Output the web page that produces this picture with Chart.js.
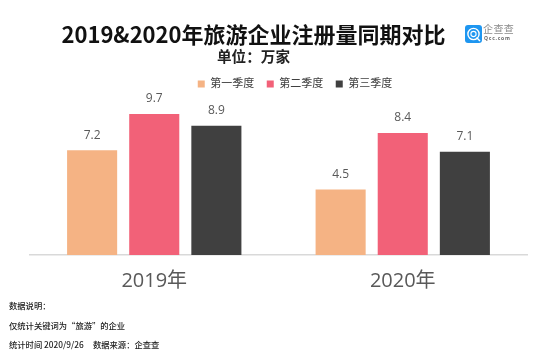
<!DOCTYPE html>
<html>
<head>
<meta charset="utf-8">
<script src="https://cdn.jsdelivr.net/npm/chart.js@4"></script>
<style>
  html, body { margin: 0; padding: 0; background: #fff; }
  #wrap { position: relative; width: 543px; height: 355px; overflow: hidden; font-family: "Noto Sans CJK SC", sans-serif; }
  #wrap div { position: absolute; white-space: pre; }
  #title { left: 0; width: 507px; top: 17px; text-align: center; font-size: 22px; line-height: 32px; font-weight: 700; color: #111; }
  #subtitle { left: 0; width: 507px; top: 45px; text-align: center; font-size: 14.6px; line-height: 22px; font-weight: 700; color: #222; }
  .note { left: 9px; font-size: 8.3px; line-height: 12px; font-weight: 500; color: #222; }
  #logoName { left: 483px; top: 22px; font-size: 10px; line-height: 14px; letter-spacing: 0.4px; color: #8a8a8a; }
  #logoSub { left: 484px; top: 34px; font-size: 5px; line-height: 8px; letter-spacing: 0.8px; color: #666; font-family: "Open Sans", sans-serif; font-weight: 700; }
  #logo { left: 465px; top: 24px; }
</style>
</head>
<body>
<div id="wrap">
  <canvas id="myChart" width="543" height="355"></canvas>
  <div id="title">2019&amp;2020年旅游企业注册量同期对比</div>
  <div id="subtitle">单位：万家</div>
  <div id="logo"><svg width="17" height="18" viewBox="0 0 17 18">
    <rect width="17" height="18" rx="3" fill="#1e96f0"/>
    <circle cx="8.5" cy="9" r="5.6" fill="none" stroke="#fff" stroke-width="1.4"/>
    <circle cx="8.5" cy="9" r="2.6" fill="none" stroke="#fff" stroke-width="1.1"/>
    <path d="M11.5 12.5 L15 16" stroke="#fff" stroke-width="1.4"/>
  </svg></div>
  <div id="logoName">企查查</div>
  <div id="logoSub">Qcc.com</div>
  <div class="note" style="top:299px">数据说明：</div>
  <div class="note" style="top:319px">仅统计关键词为“旅游”的企业</div>
  <div class="note" style="top:338px">统计时间 2020/9/26     数据来源：企查查</div>
</div>

<script>
var categories = ['2019年', '2020年'];
var seriesNames = ['第一季度', '第二季度', '第三季度'];
var q1Values = [7.2, 4.5];
var q2Values = [9.7, 8.4];
var q3Values = [8.9, 7.1];
var seriesColors = ['#f5b384', '#f26178', '#404040'];

var fontFamily = '"Open Sans", "Noto Sans CJK SC", sans-serif';

// value labels above the bars
var barLabels = {
  id: 'barLabels',
  afterDatasetsDraw: function(chart) {
    var ctx = chart.ctx;
    ctx.save();
    ctx.font = '12px ' + fontFamily;
    ctx.fillStyle = '#595959';
    ctx.textAlign = 'center';
    ctx.textBaseline = 'middle';
    chart.data.datasets.forEach(function(ds, i) {
      chart.getDatasetMeta(i).data.forEach(function(bar, j) {
        ctx.fillText(ds.data[j].toFixed(1), bar.x, bar.y - 15);
      });
    });
    ctx.restore();
  }
};

// legend sits right of centre in the original
var legendShift = {
  id: 'legendShift',
  afterLayout: function(chart) {
    chart.legend.left += 33;
  }
};

var ctxBar = document.getElementById('myChart').getContext('2d');
var myChart = new Chart(ctxBar, {
  type: 'bar',
  data: {
    labels: categories,
    datasets: [
      { label: seriesNames[0], data: q1Values, backgroundColor: seriesColors[0] },
      { label: seriesNames[1], data: q2Values, backgroundColor: seriesColors[1] },
      { label: seriesNames[2], data: q3Values, backgroundColor: seriesColors[2] }
    ]
  },
  plugins: [barLabels, legendShift],
  options: {
    responsive: false,
    animation: false,
    layout: { padding: { left: 30, right: 16, top: 66, bottom: 56 } },
    datasets: { bar: { categoryPercentage: 0.75, barPercentage: 0.806 } },
    plugins: {
      tooltip: { enabled: false },
      legend: {
        position: 'top',
        labels: {
          usePointStyle: true,
          pointStyle: 'rect',
          boxWidth: 7,
          boxHeight: 7,
          padding: 12.5,
          color: '#404040',
          font: { size: 11, family: fontFamily }
        }
      }
    },
    scales: {
      x: {
        grid: { display: false },
        border: { color: '#d9d9d9', width: 1.5 },
        ticks: { color: '#595959', padding: 6, font: { size: 20, family: fontFamily } }
      },
      y: { display: false, min: 0, max: 10.7 }
    }
  }
});
</script>
</body>
</html>
